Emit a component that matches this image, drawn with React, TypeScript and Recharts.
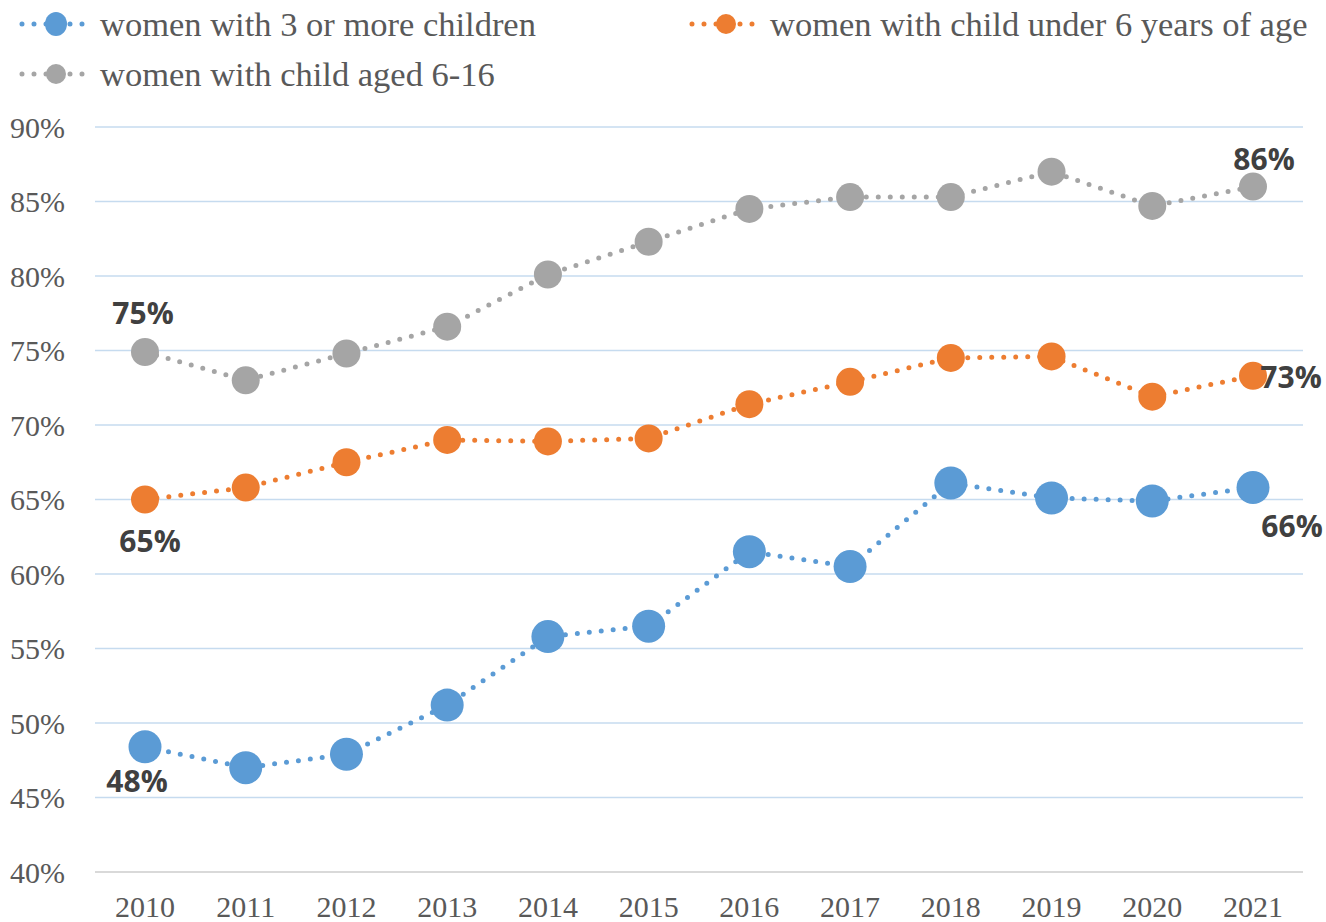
import { CartesianGrid, LabelList, Line, LineChart, XAxis, YAxis } from "recharts";

const years = ["2010", "2011", "2012", "2013", "2014", "2015", "2016", "2017", "2018", "2019", "2020", "2021"];
const threePlus = [48.4, 47.0, 47.9, 51.2, 55.8, 56.5, 61.5, 60.5, 66.1, 65.1, 64.9, 65.8];
const underSix = [65.0, 65.8, 67.5, 69.0, 68.9, 69.1, 71.4, 72.9, 74.5, 74.6, 71.9, 73.3];
const sixToSixteen = [74.9, 73.0, 74.8, 76.6, 80.1, 82.3, 84.5, 85.3, 85.3, 87.0, 84.7, 86.0];
const yTicks = [40, 45, 50, 55, 60, 65, 70, 75, 80, 85, 90];

const data = years.map((year, i) => ({
  year,
  threePlus: threePlus[i],
  underSix: underSix[i],
  sixToSixteen: sixToSixteen[i],
}));

const BLUE = "#5b9bd5";
const ORANGE = "#ed7d31";
const GRAY = "#a5a5a5";
const TEXT = "#595959";
const LABEL = "#404040";

const serif = '"Liberation Serif", "Times New Roman", serif';
const sans = '"Open Sans", "Liberation Sans", sans-serif';

// where the end labels sit relative to their point
type Offsets = { first: [number, number]; last: [number, number] };

const makeLabel = (offsets: Offsets) => (props: any) => {
  const { x, y, value, index } = props;
  let off: [number, number] | null = null;
  if (index === 0) off = offsets.first;
  if (index === years.length - 1) off = offsets.last;
  if (!off) return null;
  return (
    <text
      x={x + off[0]}
      y={y + off[1]}
      textAnchor="middle"
      dominantBaseline="central"
      fill={LABEL}
      fontFamily={sans}
      fontWeight={700}
      fontSize={30}
    >
      {`${Math.round(value)}%`}
    </text>
  );
};

function LegendItem({ color, label, rx, ry }: { color: string; label: string; rx: number; ry: number }) {
  return (
    <div style={{ display: "flex", alignItems: "center" }}>
      <svg width={76} height={30} style={{ marginRight: 6 }}>
        <line
          x1={4}
          y1={15}
          x2={72}
          y2={15}
          stroke={color}
          strokeWidth={5}
          strokeDasharray="0 12"
          strokeLinecap="round"
        />
        <ellipse cx={38} cy={15} rx={rx} ry={ry} fill={color} />
      </svg>
      <span style={{ fontFamily: serif, fontSize: 34.5, color: TEXT, whiteSpace: "nowrap", lineHeight: "30px" }}>
        {label}
      </span>
    </div>
  );
}

export default function App() {
  return (
    <div style={{ position: "absolute", left: 0, top: 0, width: 1326, height: 922, background: "#fff" }}>
      <div style={{ position: "absolute", left: 18, top: 9 }}>
        <LegendItem color={BLUE} label="women with 3 or more children" rx={11} ry={12} />
      </div>
      <div style={{ position: "absolute", left: 688, top: 9 }}>
        <LegendItem color={ORANGE} label="women with child under 6 years of age" rx={10} ry={10} />
      </div>
      <div style={{ position: "absolute", left: 18, top: 59 }}>
        <LegendItem color={GRAY} label="women with child aged 6-16" rx={10} ry={10} />
      </div>

      <LineChart width={1326} height={922} data={data} margin={{ top: 127, right: 23, bottom: 0, left: 0 }}>
        <CartesianGrid vertical={false} stroke="#c6dbef" strokeWidth={1.3} />
        <XAxis
          dataKey="year"
          padding={{ left: 50, right: 50 }}
          height={50}
          axisLine={{ stroke: "#d9d9d9", strokeWidth: 2 }}
          tickLine={false}
          tickSize={0}
          tickMargin={24}
          tick={{ fill: TEXT, fontSize: 30, fontFamily: serif }}
        />
        <YAxis
          domain={[40, 90]}
          ticks={yTicks}
          width={95}
          axisLine={false}
          tickLine={false}
          tickSize={0}
          tickMargin={30}
          tickFormatter={(v) => `${v}%`}
          tick={{ fill: TEXT, fontSize: 30, fontFamily: serif }}
        />
        <Line
          dataKey="sixToSixteen"
          stroke={GRAY}
          strokeWidth={5}
          strokeDasharray="0 12"
          strokeLinecap="round"
          dot={{ r: 14, fill: GRAY, stroke: "none" }}
          isAnimationActive={false}
        >
          <LabelList dataKey="sixToSixteen" content={makeLabel({ first: [-2, -39], last: [11, -28] })} />
        </Line>
        <Line
          dataKey="underSix"
          stroke={ORANGE}
          strokeWidth={5}
          strokeDasharray="0 12"
          strokeLinecap="round"
          dot={{ r: 14, fill: ORANGE, stroke: "none" }}
          isAnimationActive={false}
        >
          <LabelList dataKey="underSix" content={makeLabel({ first: [5, 41], last: [38, 1] })} />
        </Line>
        <Line
          dataKey="threePlus"
          stroke={BLUE}
          strokeWidth={5}
          strokeDasharray="0 12"
          strokeLinecap="round"
          dot={{ r: 16.5, fill: BLUE, stroke: "none" }}
          isAnimationActive={false}
        >
          <LabelList dataKey="threePlus" content={makeLabel({ first: [-8, 34], last: [39, 38] })} />
        </Line>
      </LineChart>
    </div>
  );
}
